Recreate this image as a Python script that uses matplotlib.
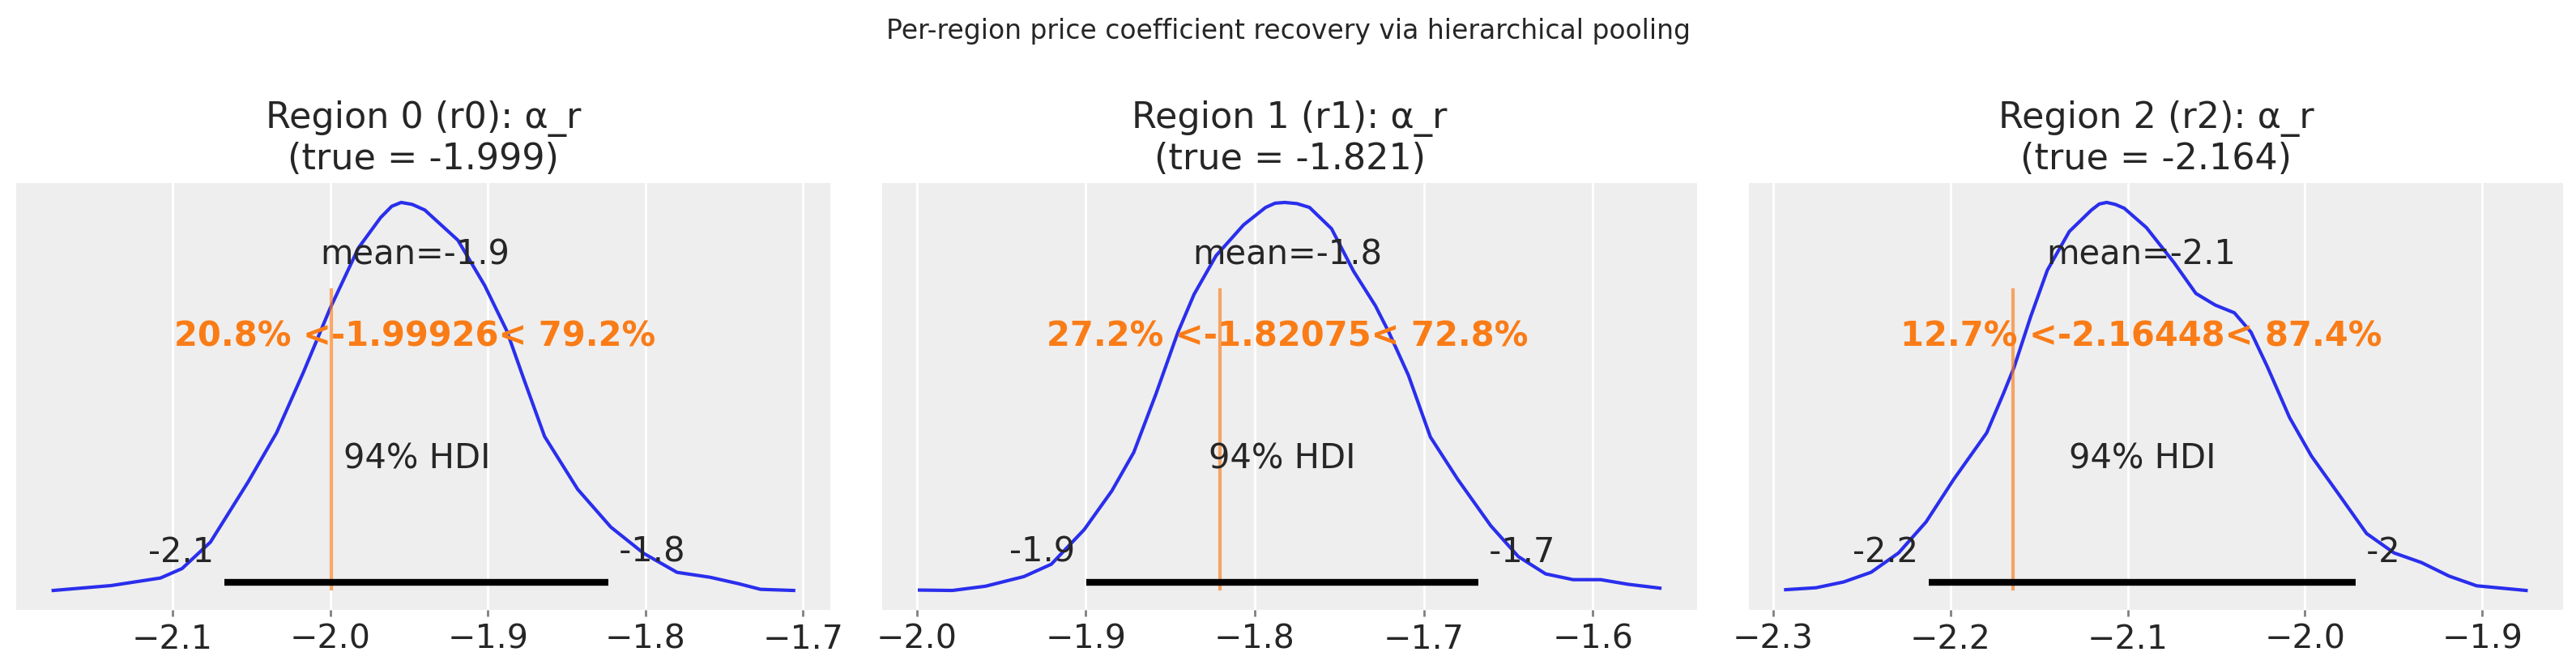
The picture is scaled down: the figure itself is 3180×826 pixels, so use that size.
import numpy as np
import matplotlib
matplotlib.use("Agg")
import matplotlib.pyplot as plt


# posterior density curves (x grid, relative density)
r0_x = [-2.1757, -2.139, -2.1077, -2.094, -2.076, -2.052, -2.034, -2.017, -2.0, -1.982,
        -1.968, -1.961, -1.955, -1.948, -1.940, -1.919, -1.902, -1.888, -1.877, -1.864,
        -1.843, -1.822, -1.801, -1.780, -1.759, -1.741, -1.727, -1.706]
r0_d = [0.0, 0.0126, 0.0321, 0.0564, 0.1245, 0.2802, 0.4066, 0.5623, 0.7276, 0.8833,
        0.9611, 0.990, 1.0, 0.995, 0.9805, 0.9027, 0.786, 0.6693, 0.5428, 0.3969,
        0.2607, 0.1634, 0.0953, 0.0467, 0.034, 0.0175, 0.0029, 0.0]

r1_x = [-1.9984, -1.9789, -1.9594, -1.9366, -1.9204, -1.9009, -1.8846, -1.8716, -1.8586, -1.8456,
        -1.8359, -1.8229, -1.8066, -1.7936, -1.7880, -1.7823, -1.7750, -1.7676, -1.7546, -1.7416,
        -1.7286, -1.7205, -1.7091, -1.6961, -1.6799, -1.6604, -1.6441, -1.6279, -1.6116, -1.5953,
        -1.5791, -1.5603]
r1_d = [0.001, 0.0, 0.0109, 0.0358, 0.0676, 0.157, 0.2565, 0.3559, 0.505, 0.664,
        0.7634, 0.8628, 0.9423, 0.9871, 0.998, 1.0, 0.997, 0.9871, 0.9324, 0.8231,
        0.7336, 0.664, 0.5547, 0.3956, 0.2863, 0.167, 0.0875, 0.0427, 0.0278, 0.0278,
        0.0159, 0.006]

r2_x = [-2.2929, -2.2758, -2.2602, -2.2447, -2.2292, -2.2137, -2.1981, -2.1795, -2.1702, -2.164,
        -2.1547, -2.1453, -2.1329, -2.1205, -2.1160, -2.1118, -2.1070, -2.1019, -2.0894, -2.0739,
        -2.0615, -2.0506, -2.0398, -2.0304, -2.0211, -2.0087, -1.9963, -1.9807, -1.9652, -1.9497,
        -1.9342, -1.9186, -1.9031, -1.8752]
r2_d = [0.003, 0.008, 0.0229, 0.0479, 0.0977, 0.1775, 0.2871, 0.4068, 0.5065, 0.5763,
        0.7059, 0.8255, 0.9252, 0.9801, 0.996, 1.0, 0.995, 0.985, 0.9352, 0.8455,
        0.7657, 0.7358, 0.7159, 0.666, 0.5763, 0.4467, 0.347, 0.2473, 0.1476, 0.0977,
        0.0728, 0.0379, 0.013, 0.001]

region_names = ["Region 0 (r0)", "Region 1 (r1)", "Region 2 (r2)"]
true_vals = [-1.99926, -1.82075, -2.16448]
post_means = [-1.9465, -1.7805, -2.0922]
hdi_low = [-2.0669, -1.8999, -2.2121]
hdi_high = [-1.8234, -1.6675, -1.9714]
pct_below = [20.8, 27.2, 12.7]
pct_above = [79.2, 72.8, 87.4]

curves = [(r0_x, r0_d), (r1_x, r1_d), (r2_x, r2_d)]

TEXT = "#262626"
BLUE = "#2a2eec"
ORANGE = "#fa7c17"
LABEL_SIZE = 15
LW = 1.5


def fmt(v):
    return f"{v:.2g}"


fig, axes = plt.subplots(1, 3, figsize=(15.9, 4.13), dpi=200)
fig.subplots_adjust(left=0.0063, right=0.995, bottom=0.0884, top=0.7264, wspace=0.0636)

for i, ax in enumerate(axes):
    xs, ds = curves[i]
    ax.set_facecolor("#eeeeee")
    for sp in ax.spines.values():
        sp.set_visible(False)
    ax.grid(True, axis="x", color="white", linewidth=1.0)
    ax.set_axisbelow(True)

    ax.plot(xs, ds, color=BLUE, lw=LW)
    plot_height = ax.get_ylim()[1]

    # reference (true) value
    ax.axvline(true_vals[i], ymin=0.05, ymax=0.75, lw=LW, alpha=0.65, color=ORANGE)
    ref_txt = f"{pct_below[i]:.1f}% <{true_vals[i]:g}< {pct_above[i]:.1f}%"
    ax.text(post_means[i], plot_height * 0.6, ref_txt, size=LABEL_SIZE,
            weight="semibold", ha="center", color=ORANGE)

    # point estimate
    ax.text(post_means[i], plot_height * 0.8, f"mean={fmt(post_means[i])}",
            size=LABEL_SIZE, ha="center", color=TEXT)

    # hdi
    ax.plot([hdi_low[i], hdi_high[i]], [plot_height * 0.02] * 2, lw=LW * 2,
            color="k", solid_capstyle="butt")
    ax.text(hdi_low[i], plot_height * 0.07, fmt(hdi_low[i]) + " ", size=LABEL_SIZE,
            ha="right", color=TEXT)
    ax.text(hdi_high[i], plot_height * 0.07, " " + fmt(hdi_high[i]), size=LABEL_SIZE,
            ha="left", color=TEXT)
    ax.text((hdi_low[i] + hdi_high[i]) / 2, plot_height * 0.3, "94% HDI",
            size=LABEL_SIZE, ha="center", color=TEXT)

    ax.set_yticks([])
    ax.tick_params(axis="x", labelsize=14.8, labelcolor=TEXT, color="#808080",
                   length=3, width=1.0, pad=3)
    ax.set_title(f"{region_names[i]}: α_r\n(true = {true_vals[i]:.3f})",
                 fontsize=16, color=TEXT, pad=6)

fig.suptitle("Per-region price coefficient recovery via hierarchical pooling",
             fontsize=11.9, color=TEXT, y=0.973)

fig.savefig("out.png", dpi=200)
